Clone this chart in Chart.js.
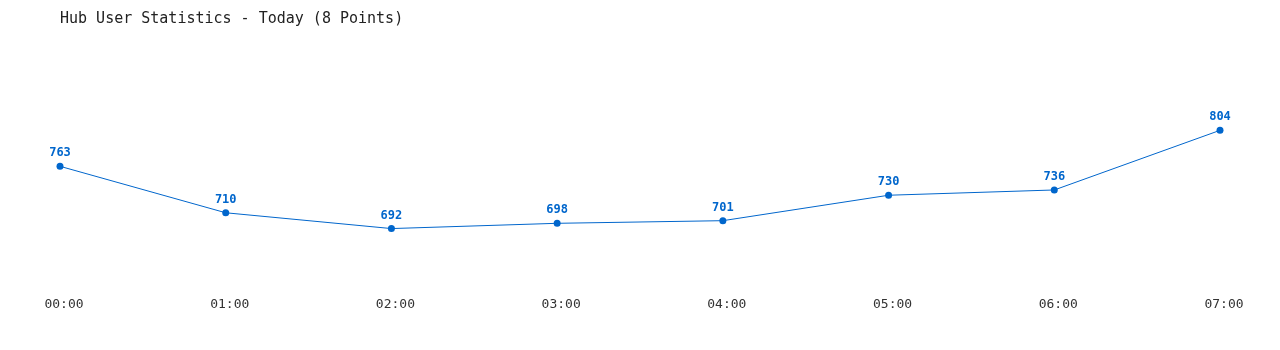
<!DOCTYPE html>
<html>
<head>
<meta charset="utf-8">
<script src="https://cdn.jsdelivr.net/npm/chart.js@4"></script>
<style>
html,body{margin:0;padding:0;background:#fff;}
#wrap{width:1280px;height:350px;position:relative;}
</style>
</head>
<body>
<div id="wrap"><canvas id="c" width="1280" height="350"></canvas></div>
<script>
const titleText = "Hub User Statistics - Today (8 Points)";
const categories = ["00:00","01:00","02:00","03:00","04:00","05:00","06:00","07:00"];
const users = [763, 710, 692, 698, 701, 730, 736, 804];
const yMin = 650;
const yMax = 850;

const LINE = '#0066cc';
const MONO = '"DejaVu Sans Mono", "Liberation Mono", monospace';

const valueLabels = {
  id: 'valueLabels',
  afterDatasetsDraw(chart) {
    const ctx = chart.ctx;
    const meta = chart.getDatasetMeta(0);
    ctx.save();
    ctx.font = 'bold 12px ' + MONO;
    ctx.fillStyle = LINE;
    ctx.textAlign = 'center';
    ctx.textBaseline = 'middle';
    meta.data.forEach((pt, i) => {
      ctx.fillText(String(chart.data.datasets[0].data[i]), pt.x, pt.y - 13);
    });
    ctx.restore();
  }
};

new Chart(document.getElementById('c'), {
  type: 'line',
  data: {
    labels: categories,
    datasets: [{
      data: users,
      borderColor: LINE,
      backgroundColor: LINE,
      borderWidth: 1,
      pointRadius: 3.5,
      pointHoverRadius: 3.5,
      pointBackgroundColor: LINE,
      pointBorderColor: LINE,
      pointBorderWidth: 0,
      tension: 0,
      fill: false,
      clip: false
    }]
  },
  options: {
    responsive: false,
    animation: false,
    events: [],
    layout: { padding: { left: 60, right: 60, top: 0, bottom: 7 } },
    plugins: {
      legend: { display: false },
      tooltip: { enabled: false },
      title: {
        display: true,
        text: titleText,
        align: 'start',
        color: '#222',
        font: { family: MONO, size: 15, weight: 'normal' },
        padding: { top: 10, bottom: 62 }
      }
    },
    scales: {
      x: {
        offset: false,
        grid: { display: false, drawTicks: false },
        border: { display: false },
        ticks: {
          color: '#333',
          font: { family: MONO, size: 13 },
          padding: 31,
          maxRotation: 0,
          autoSkip: false,
          labelOffset: 4
        }
      },
      y: {
        display: false,
        min: yMin,
        max: yMax
      }
    }
  },
  plugins: [valueLabels]
});
</script>
</body>
</html>
